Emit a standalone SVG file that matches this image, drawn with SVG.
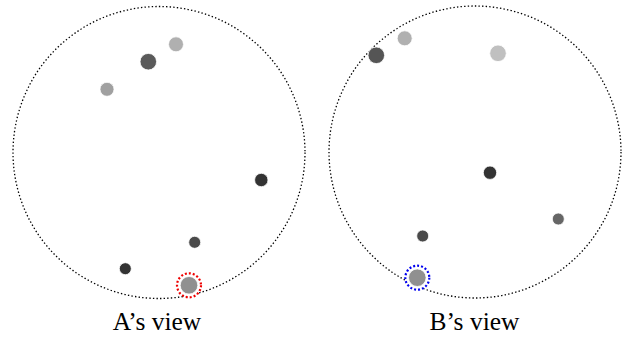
<svg xmlns="http://www.w3.org/2000/svg" width="626" height="337" viewBox="0 0 626 337">
<style>
.view{fill:none;stroke:#000;stroke-width:1.3;stroke-dasharray:1.4 2.2}
.dot{stroke:#fff;stroke-width:0.8}
.ring{fill:#fff;stroke-width:2.2;stroke-dasharray:2 2}
.lbl{font-family:"Liberation Serif","Times New Roman",serif;font-size:25.5px;fill:#000;text-anchor:middle}
</style>
<rect width="626" height="337" fill="#fff"/>
<g id="viewA">
<circle class="view" cx="159" cy="152.5" r="146"/>
<circle class="dot" cx="176" cy="44.3" r="7.5" fill="#b0b0b0"/>
<circle class="dot" cx="148.3" cy="61.7" r="8.3" fill="#5a5a5a"/>
<circle class="dot" cx="107" cy="89.3" r="7" fill="#a0a0a0"/>
<circle class="dot" cx="261.3" cy="180" r="6.7" fill="#333"/>
<circle class="dot" cx="194.7" cy="242.3" r="6" fill="#4a4a4a"/>
<circle class="dot" cx="125.3" cy="268.7" r="6" fill="#333"/>
<circle class="ring" cx="189" cy="285.3" r="12" stroke="#e00"/>
<circle class="dot" cx="189" cy="285.3" r="8.8" fill="#909090"/>
<text class="lbl" x="157" y="330">A’s view</text>
</g>
<g id="viewB">
<circle class="view" cx="475" cy="152" r="146"/>
<circle class="dot" cx="404.7" cy="38.3" r="7.5" fill="#b0b0b0"/>
<circle class="dot" cx="376.3" cy="55.3" r="8.3" fill="#555"/>
<circle class="dot" cx="498" cy="53.3" r="8.3" fill="#c0c0c0"/>
<circle class="dot" cx="490" cy="172.7" r="6.7" fill="#333"/>
<circle class="dot" cx="558.3" cy="219" r="6" fill="#666"/>
<circle class="dot" cx="422.7" cy="236" r="6" fill="#4a4a4a"/>
<circle class="ring" cx="417.3" cy="277.7" r="12" stroke="#00e"/>
<circle class="dot" cx="417.3" cy="277.7" r="8.8" fill="#909090"/>
<text class="lbl" x="474.5" y="330">B’s view</text>
</g>
<g id="connectors"/>
</svg>
